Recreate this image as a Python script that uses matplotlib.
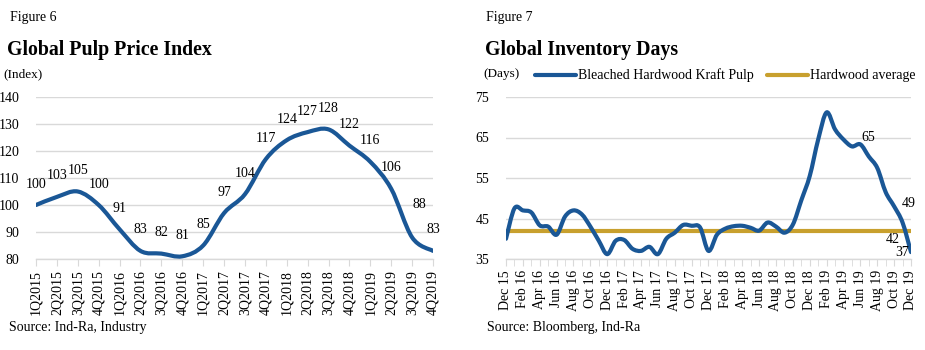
import matplotlib
matplotlib.use("Agg")
import matplotlib.pyplot as plt
from matplotlib.path import Path
from matplotlib.patches import PathPatch

# ---------------- data ----------------
quarters = ["1Q2015", "2Q2015", "3Q2015", "4Q2015", "1Q2016", "2Q2016", "3Q2016", "4Q2016",
            "1Q2017", "2Q2017", "3Q2017", "4Q2017", "1Q2018", "2Q2018", "3Q2018", "4Q2018",
            "1Q2019", "2Q2019", "3Q2019", "4Q2019"]
price_index = [100, 103, 105, 100, 91, 83, 82, 81, 85, 97, 104, 117, 124, 127, 128, 122,
               116, 106, 88, 83]

months = ["Dec 15", "Jan 16", "Feb 16", "Mar 16", "Apr 16", "May 16", "Jun 16", "Jul 16",
          "Aug 16", "Sep 16", "Oct 16", "Nov 16", "Dec 16", "Jan 17", "Feb 17", "Mar 17",
          "Apr 17", "May 17", "Jun 17", "Jul 17", "Aug 17", "Sep 17", "Oct 17", "Nov 17",
          "Dec 17", "Jan 18", "Feb 18", "Mar 18", "Apr 18", "May 18", "Jun 18", "Jul 18",
          "Aug 18", "Sep 18", "Oct 18", "Nov 18", "Dec 18", "Jan 19", "Feb 19", "Mar 19",
          "Apr 19", "May 19", "Jun 19", "Jul 19", "Aug 19", "Sep 19", "Oct 19", "Nov 19",
          "Dec 19"]
bhkp_days = [40, 47.5, 47, 46.5, 43.3, 43, 41, 45.5, 47, 46, 43, 39.5, 36.2, 39.5, 39.7,
             37.5, 37, 38, 36.2, 40, 41.5, 43.4, 43.2, 42.8, 37, 41, 42.5, 43.1, 43.2,
             42.7, 42, 44, 43, 41.5, 43.5, 49.5, 55.5, 64.5, 71.2, 67, 64.5, 62.8, 63.3,
             60.3, 57.5, 51.5, 48, 44, 36.7]
hardwood_avg = 42

inv_labels = ["65", "49", "42", "37"]
inv_label_x = [42.9, 47.75, 45.85, 46.9]
inv_label_y = [65.1, 48.8, 39.9, 36.7]

BLUE = "#1a5796"
GOLD = "#c8a02e"
GRID = "#d9d9d9"
SERIF = ["Liberation Serif", "DejaVu Serif"]

plt.rcParams["font.family"] = SERIF


def smooth_path(xs, ys, t=1 / 6):
    """Bezier path (Excel-style smoothing) through the data points."""
    n = len(xs)
    verts = [(xs[0], ys[0])]
    codes = [Path.MOVETO]
    for i in range(n - 1):
        x0, y0 = xs[max(i - 1, 0)], ys[max(i - 1, 0)]
        x1, y1 = xs[i], ys[i]
        x2, y2 = xs[i + 1], ys[i + 1]
        x3, y3 = xs[min(i + 2, n - 1)], ys[min(i + 2, n - 1)]
        c1 = (x1 + (x2 - x0) * t, y1 + (y2 - y0) * t)
        c2 = (x2 - (x3 - x1) * t, y2 - (y3 - y1) * t)
        verts += [c1, c2, (x2, y2)]
        codes += [Path.CURVE4] * 3
    return Path(verts, codes)


fig = plt.figure(figsize=(9.25, 3.5), dpi=100)

# ---------------- left chart ----------------
ax1 = fig.add_axes([36 / 925, 1 - 259 / 350, (433 - 36) / 925, (259 - 97) / 350])
x1 = list(range(len(quarters)))
ax1.add_patch(PathPatch(smooth_path(x1, price_index), facecolor="none", edgecolor=BLUE,
                        lw=3.0, capstyle="round", joinstyle="round", zorder=3))
ax1.plot(x1, price_index, alpha=0)
ax1.set_xlim(0, len(quarters) - 1)
ax1.set_ylim(80, 140)
ax1.set_yticks(range(80, 141, 10))
ax1.set_xticks(x1)
ax1.set_xticklabels(quarters, rotation=90, fontsize=10)
for i, v in enumerate(price_index):
    off = (7, 33) if quarters[i] == "3Q2019" else (0, 21)
    ax1.annotate(str(v), (i, v), xytext=off, textcoords="offset pixels",
                 ha="center", va="center", fontsize=10, zorder=4)

# ---------------- right chart ----------------
ax2 = fig.add_axes([506 / 925, 1 - 259 / 350, (911 - 506) / 925, (259 - 97) / 350])
x2 = list(range(len(months)))
ax2.plot([0, len(months) - 1], [hardwood_avg, hardwood_avg], color=GOLD, lw=3.0,
         solid_capstyle="butt", zorder=3)
ax2.add_patch(PathPatch(smooth_path(x2, bhkp_days), facecolor="none", edgecolor=BLUE,
                        lw=3.0, capstyle="round", joinstyle="round", zorder=4))
ax2.plot(x2, bhkp_days, alpha=0)
ax2.set_xlim(0, len(months) - 1)
ax2.set_ylim(35, 75)
ax2.set_yticks(range(35, 76, 10))
ax2.set_xticks(x2[::2])
ax2.set_xticklabels(months[::2], rotation=90, fontsize=10)
ax2.set_xticks(x2, minor=True)
for t, x, y in zip(inv_labels, inv_label_x, inv_label_y):
    ax2.text(x, y, t, ha="center", va="center", fontsize=10, zorder=5)

for ax in (ax1, ax2):
    for s in ("top", "right", "left"):
        ax.spines[s].set_visible(False)
    ax.spines["bottom"].set_color(GRID)
    ax.spines["bottom"].set_linewidth(1)
    ax.grid(axis="y", color=GRID, lw=1)
    ax.set_axisbelow(True)
    ax.tick_params(axis="y", length=0, pad=12, labelsize=10)
    ax.tick_params(axis="x", which="both", length=5, color=GRID, pad=3, direction="out")

# ---------------- texts ----------------
fig.text(10 / 925, 1 - 18 / 350, "Figure 6", fontsize=10, va="center", ha="left")
fig.text(7 / 925, 1 - 50 / 350, "Global Pulp Price Index", fontsize=14.3, fontweight="bold",
         va="center", ha="left")
fig.text(3 / 925, 1 - 74 / 350, "(Index)", fontsize=9.5, va="center", ha="left")
fig.text(9 / 925, 1 - 327 / 350, "Source: Ind-Ra, Industry", fontsize=10, va="center", ha="left")

fig.text(486 / 925, 1 - 18 / 350, "Figure 7", fontsize=10, va="center", ha="left")
fig.text(485 / 925, 1 - 50 / 350, "Global Inventory Days", fontsize=14.3, fontweight="bold",
         va="center", ha="left")
fig.text(483 / 925, 1 - 74 / 350, "(Days)", fontsize=9.5, va="center", ha="left")
fig.text(487 / 925, 1 - 327 / 350, "Source: Bloomberg, Ind-Ra", fontsize=10, va="center", ha="left")

# legend (drawn as figure-level lines + text)
ly = 1 - 75 / 350
fig.add_artist(plt.Line2D([535 / 925, 576 / 925], [ly, ly], color=BLUE, lw=3,
                          solid_capstyle="round"))
fig.text(578 / 925, ly, "Bleached Hardwood Kraft Pulp", fontsize=10, va="center", ha="left")
fig.add_artist(plt.Line2D([767 / 925, 808 / 925], [ly, ly], color=GOLD, lw=3,
                          solid_capstyle="round"))
fig.text(810 / 925, ly, "Hardwood average", fontsize=10, va="center", ha="left")

fig.savefig("out.png", dpi=100, facecolor="white")
